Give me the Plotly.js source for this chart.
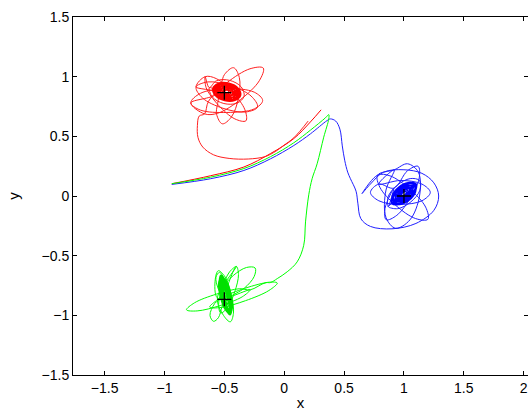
<!DOCTYPE html>
<html>
<head>
<meta charset="utf-8">
<script src="https://cdn.plot.ly/plotly-3.0.1.min.js"></script>
<style>html,body{margin:0;padding:0;overflow:hidden;background:#fff}</style>
</head>
<body>
<div id="chart" style="width:528px;height:414px"></div>
<script>
// tick values
const xTicks = [-1.5, -1, -0.5, 0, 0.5, 1, 1.5, 2];
const yTicks = [-1.5, -1, -0.5, 0, 0.5, 1, 1.5];

// final positions of the three masses (+ markers)
const massX = [-0.5, 1.0, -0.5];
const massY = [0.866, 0.0, -0.866];

// ---- red body ----
const redArcX = [-0.939, -0.614, -0.337, -0.114, 0.080, 0.219, 0.308];
const redArcY = [0.103, 0.170, 0.243, 0.356, 0.481, 0.621, 0.722];
const redX = [
  0.20, 0.08, -0.01, -0.07, -0.16, -0.30, -0.46, -0.59, -0.68, -0.72, -0.725, -0.71,
  -0.665, -0.632, -0.476, -0.286, -0.175, -0.208, -0.364, -0.554, -0.665,
  -0.78, -0.70, -0.48, -0.25, -0.18, -0.25, -0.48, -0.70, -0.78,
  -0.558, -0.499, -0.423, -0.375, -0.382, -0.441, -0.517, -0.565, -0.558,
  -0.737, -0.639, -0.449, -0.277, -0.223, -0.321, -0.511, -0.683, -0.737,
  -0.66, -0.568, -0.431, -0.328, -0.32, -0.412, -0.549, -0.652, -0.66,
  -0.626, -0.566, -0.456, -0.360, -0.335, -0.394, -0.504, -0.600, -0.626, -0.596
];
const redY = [
  0.628, 0.488, 0.420, 0.375, 0.330, 0.310, 0.315, 0.345, 0.410, 0.490, 0.590, 0.670,
  0.688, 0.794, 0.951, 1.066, 1.072, 0.966, 0.809, 0.694, 0.688,
  0.78, 0.86, 0.90, 0.87, 0.80, 0.73, 0.70, 0.72, 0.78,
  0.858, 1.018, 1.075, 0.994, 0.822, 0.662, 0.605, 0.686, 0.858,
  0.914, 0.956, 0.925, 0.838, 0.746, 0.704, 0.735, 0.822, 0.914,
  1.0, 0.984, 0.869, 0.722, 0.63, 0.646, 0.761, 0.908, 1.0,
  0.908, 0.966, 0.969, 0.915, 0.836, 0.778, 0.775, 0.829, 0.908, 0.901
];
const redCoreX = [
  -0.596, -0.549, -0.462, -0.385, -0.364, -0.411, -0.498, -0.575, -0.596,
  -0.592, -0.548, -0.464, -0.390, -0.368, -0.412, -0.496, -0.570, -0.592,
  -0.577, -0.539, -0.466, -0.401, -0.383, -0.421, -0.494, -0.559, -0.577,
  -0.587, -0.548, -0.47, -0.398, -0.373, -0.412, -0.49, -0.562, -0.587,
  -0.567, -0.530, -0.463, -0.406, -0.393, -0.430, -0.497, -0.554, -0.567,
  -0.558, -0.527, -0.468, -0.417, -0.402, -0.433, -0.492, -0.543, -0.558,
  -0.548, -0.518, -0.466, -0.422, -0.412, -0.442, -0.494, -0.538, -0.548,
  -0.538, -0.514, -0.47, -0.432, -0.422, -0.446, -0.49, -0.528, -0.538,
  -0.529, -0.508, -0.472, -0.440, -0.432, -0.452, -0.488, -0.520, -0.529,
  -0.514, -0.500, -0.474, -0.452, -0.446, -0.460, -0.486, -0.508, -0.514,
  -0.499, -0.491, -0.476, -0.464, -0.461, -0.469, -0.484, -0.496, -0.499,
  -0.596, -0.549, -0.462, -0.385, -0.364, -0.411, -0.498, -0.575, -0.596
];
const redCoreY = [
  0.901, 0.943, 0.945, 0.903, 0.843, 0.801, 0.799, 0.841, 0.901,
  0.900, 0.936, 0.935, 0.897, 0.844, 0.808, 0.809, 0.847, 0.900,
  0.896, 0.93, 0.93, 0.896, 0.848, 0.814, 0.814, 0.848, 0.896,
  0.898, 0.918, 0.911, 0.88, 0.846, 0.826, 0.833, 0.864, 0.898,
  0.894, 0.935, 0.940, 0.905, 0.850, 0.809, 0.804, 0.839, 0.894,
  0.891, 0.92, 0.921, 0.892, 0.853, 0.824, 0.823, 0.852, 0.891,
  0.889, 0.925, 0.930, 0.901, 0.855, 0.819, 0.814, 0.843, 0.889,
  0.886, 0.909, 0.911, 0.889, 0.858, 0.835, 0.833, 0.855, 0.886,
  0.884, 0.905, 0.906, 0.888, 0.860, 0.840, 0.838, 0.857, 0.884,
  0.880, 0.895, 0.896, 0.883, 0.864, 0.849, 0.848, 0.861, 0.880,
  0.877, 0.886, 0.887, 0.879, 0.867, 0.858, 0.857, 0.865, 0.877,
  0.901, 0.943, 0.945, 0.903, 0.843, 0.801, 0.799, 0.841, 0.901
];

// ---- green body ----
const greenX = [
  -0.939, -0.614, -0.337, -0.114, 0.080, 0.219, 0.344, 0.372, 0.372, 0.33, 0.275, 0.233,
  0.205, 0.178, 0.163, 0.108, 0.025, -0.058, -0.114,
  -0.152, -0.357, -0.552, -0.622, -0.528, -0.323, -0.128, -0.058, -0.152,
  -0.284, -0.373, -0.565, -0.749, -0.816, -0.727, -0.535, -0.351, -0.284,
  -0.445, -0.334, -0.251, -0.243, -0.315, -0.426, -0.509, -0.517, -0.445,
  -0.558, -0.576, -0.55, -0.494, -0.442, -0.424, -0.45, -0.506, -0.558,
  -0.40, -0.456, -0.517, -0.548, -0.53, -0.474, -0.413, -0.382, -0.40,
  -0.52, -0.58, -0.62, -0.59, -0.55, -0.52, -0.50,
  -0.55, -0.57, -0.54, -0.50, -0.49, -0.50, -0.529
];
const greenY = [
  0.103, 0.158, 0.230, 0.330, 0.446, 0.552, 0.655, 0.682, 0.646, 0.493, 0.270, 0.145,
  0.010, -0.217, -0.413, -0.552, -0.635, -0.692, -0.725,
  -0.726, -0.783, -0.868, -0.931, -0.934, -0.877, -0.792, -0.729, -0.726,
  -0.786, -0.777, -0.822, -0.895, -0.954, -0.963, -0.918, -0.845, -0.786,
  -0.841, -0.773, -0.675, -0.603, -0.599, -0.667, -0.765, -0.837, -0.841,
  -0.854, -0.698, -0.626, -0.678, -0.826, -0.982, -1.054, -1.002, -0.854,
  -0.59, -0.635, -0.768, -0.911, -0.98, -0.935, -0.802, -0.659, -0.59,
  -0.85, -0.90, -1.0, -1.05, -1.02, -0.93, -0.87,
  -0.78, -0.68, -0.64, -0.70, -0.80, -0.87, -0.664
];
const greenCoreX = [
  -0.529, -0.493, -0.456, -0.438, -0.451, -0.487, -0.524, -0.542, -0.529,
  -0.528, -0.496, -0.461, -0.443, -0.452, -0.484, -0.519, -0.537, -0.528,
  -0.527, -0.485, -0.446, -0.433, -0.453, -0.495, -0.534, -0.547, -0.527,
  -0.524, -0.497, -0.466, -0.449, -0.456, -0.483, -0.514, -0.531, -0.524,
  -0.522, -0.485, -0.451, -0.440, -0.458, -0.495, -0.529, -0.540, -0.522,
  -0.520, -0.501, -0.475, -0.459, -0.460, -0.479, -0.505, -0.521, -0.520,
  -0.517, -0.495, -0.471, -0.457, -0.463, -0.485, -0.509, -0.523, -0.517,
  -0.508, -0.493, -0.475, -0.467, -0.472, -0.487, -0.505, -0.513, -0.508,
  -0.501, -0.491, -0.480, -0.476, -0.479, -0.489, -0.500, -0.505, -0.501,
  -0.529, -0.493, -0.456, -0.438, -0.451, -0.487, -0.524, -0.542, -0.529
];
const greenCoreY = [
  -0.664, -0.707, -0.822, -0.941, -0.996, -0.953, -0.838, -0.719, -0.664,
  -0.669, -0.711, -0.823, -0.939, -0.991, -0.949, -0.837, -0.721, -0.669,
  -0.674, -0.713, -0.820, -0.933, -0.986, -0.947, -0.840, -0.727, -0.674,
  -0.684, -0.723, -0.824, -0.929, -0.976, -0.937, -0.836, -0.731, -0.684,
  -0.694, -0.727, -0.821, -0.920, -0.966, -0.933, -0.839, -0.740, -0.694,
  -0.703, -0.738, -0.827, -0.917, -0.957, -0.922, -0.833, -0.743, -0.703,
  -0.713, -0.744, -0.825, -0.910, -0.947, -0.916, -0.835, -0.750, -0.713,
  -0.752, -0.772, -0.827, -0.883, -0.908, -0.888, -0.833, -0.777, -0.752,
  -0.781, -0.794, -0.828, -0.864, -0.879, -0.867, -0.832, -0.798, -0.781,
  -0.664, -0.707, -0.822, -0.941, -0.996, -0.953, -0.838, -0.719, -0.664
];

// ---- blue body ----
const blueX = [
  -0.939, -0.614, -0.337, -0.114, 0.080, 0.219, 0.358, 0.386, 0.43, 0.465, 0.485, 0.505,
  0.53, 0.553, 0.60, 0.615, 0.64, 0.72, 0.90, 1.10, 1.25, 1.29, 1.25, 1.15, 1.0, 0.83, 0.72, 0.65,
  0.78, 0.883, 1.049, 1.181, 1.2, 1.097, 0.931, 0.799, 0.78,
  0.92, 1.03, 1.12, 1.13, 1.05, 0.93, 0.85, 0.85, 0.92,
  0.79, 0.97, 1.15, 1.22, 1.15, 0.97, 0.79, 0.72, 0.79,
  0.916, 1.03, 1.118, 1.128, 1.054, 0.94, 0.852, 0.842, 0.916,
  0.869, 0.867, 0.942, 1.052, 1.131, 1.133, 1.058, 0.948, 0.869, 0.908
];
const blueY = [
  0.097, 0.145, 0.214, 0.312, 0.423, 0.521, 0.632, 0.646, 0.628, 0.56, 0.42, 0.30,
  0.20, 0.145, 0.04, -0.06, -0.19, -0.255, -0.275, -0.23, -0.12, 0.0, 0.11, 0.19, 0.22, 0.20, 0.10, 0.02,
  0.175, 0.169, 0.058, -0.093, -0.195, -0.189, -0.078, 0.073, 0.175,
  0.22, 0.27, 0.20, 0.0, -0.20, -0.27, -0.18, 0.05, 0.22,
  0.10, 0.13, 0.10, 0.03, -0.04, -0.07, -0.04, 0.03, 0.10,
  0.066, 0.212, 0.249, 0.154, -0.016, -0.162, -0.199, -0.104, 0.066,
  -0.089, -0.008, 0.089, 0.146, 0.129, 0.048, -0.049, -0.106, -0.089, -0.057
];
const blueCoreX = [
  0.900, 0.902, 0.962, 1.044, 1.100, 1.098, 1.038, 0.957, 0.900,
  0.908, 0.903, 0.955, 1.034, 1.092, 1.097, 1.045, 0.966, 0.908,
  0.908, 0.912, 0.968, 1.042, 1.092, 1.088, 1.032, 0.958, 0.908,
  0.915, 0.913, 0.962, 1.033, 1.085, 1.087, 1.038, 0.967, 0.915,
  0.923, 0.93, 0.978, 1.038, 1.077, 1.07, 1.022, 0.962, 0.923,
  0.931, 0.928, 0.968, 1.026, 1.069, 1.072, 1.032, 0.974, 0.931,
  0.938, 0.945, 0.984, 1.033, 1.062, 1.055, 1.016, 0.967, 0.938,
  0.946, 0.944, 0.974, 1.020, 1.054, 1.056, 1.026, 0.980, 0.946,
  0.954, 0.959, 0.987, 1.023, 1.046, 1.041, 1.013, 0.977, 0.954,
  0.969, 0.969, 0.987, 1.013, 1.031, 1.031, 1.013, 0.987, 0.969,
  0.981, 0.981, 0.992, 1.008, 1.019, 1.019, 1.008, 0.992, 0.981,
  0.900, 0.902, 0.962, 1.044, 1.100, 1.098, 1.038, 0.957, 0.900
];
const blueCoreY = [
  -0.063, -0.006, 0.066, 0.111, 0.103, 0.046, -0.026, -0.071, -0.063,
  -0.057, 0.004, 0.074, 0.112, 0.097, 0.036, -0.034, -0.072, -0.057,
  -0.057, -0.007, 0.059, 0.101, 0.097, 0.047, -0.019, -0.061, -0.057,
  -0.05, 0.003, 0.066, 0.103, 0.09, 0.037, -0.026, -0.063, -0.05,
  -0.044, -0.006, 0.047, 0.084, 0.084, 0.046, -0.007, -0.044, -0.044,
  -0.038, 0.006, 0.059, 0.088, 0.078, 0.034, -0.019, -0.048, -0.038,
  -0.031, -0.002, 0.039, 0.07, 0.071, 0.042, 0.001, -0.03, -0.031,
  -0.025, 0.010, 0.051, 0.074, 0.065, 0.030, -0.011, -0.034, -0.025,
  -0.018, 0.004, 0.035, 0.058, 0.058, 0.036, 0.005, -0.018, -0.018,
  -0.006, 0.013, 0.035, 0.049, 0.046, 0.027, 0.005, -0.009, -0.006,
  0.004, 0.015, 0.029, 0.038, 0.036, 0.025, 0.011, 0.002, 0.004,
  -0.063, -0.006, 0.066, 0.111, 0.103, 0.046, -0.026, -0.071, -0.063
];

const lineOf = (c, w) => ({color: c, width: w, shape: 'spline', smoothing: 1});
const traces = [
  {x: redArcX, y: redArcY, mode: 'lines', line: lineOf('#ff0000', 1), hoverinfo: 'skip'},
  {x: redX, y: redY, mode: 'lines', line: lineOf('#ff2020', 1), hoverinfo: 'skip'},
  {x: redCoreX, y: redCoreY, mode: 'lines', line: lineOf('#ff0000', 1.4), hoverinfo: 'skip'},
  {x: blueX, y: blueY, mode: 'lines', line: lineOf('#2020ff', 1), hoverinfo: 'skip'},
  {x: blueCoreX, y: blueCoreY, mode: 'lines', line: lineOf('#0000ff', 1.4), hoverinfo: 'skip'},
  {x: greenX, y: greenY, mode: 'lines', line: lineOf('#00ff00', 1), hoverinfo: 'skip'},
  {x: greenCoreX, y: greenCoreY, mode: 'lines', line: lineOf('#00e000', 1.4), hoverinfo: 'skip'},
  {x: massX, y: massY, mode: 'markers', hoverinfo: 'skip',
   marker: {symbol: 'cross-thin', size: 10, color: '#000', line: {color: '#000', width: 1.3}}}
];

const font = {family: '"Liberation Sans", Arial, Helvetica, sans-serif', size: 14, color: '#000'};
const axisBase = {
  showline: true, linecolor: '#000', linewidth: 1, mirror: 'ticks',
  ticks: 'inside', ticklen: 4, tickwidth: 1, tickcolor: '#000',
  showgrid: false, zeroline: false, tickfont: font, automargin: false
};
const layout = {
  width: 528, height: 414,
  margin: {l: 73, r: 0, t: 17, b: 39},
  paper_bgcolor: '#fff', plot_bgcolor: '#fff',
  showlegend: false,
  font: font,
  xaxis: Object.assign({}, axisBase, {
    range: [-1.764, 2.036], tickvals: xTicks,
    title: {text: 'x', font: {family: font.family, size: 15, color: '#000'}, standoff: 2}
  }),
  yaxis: Object.assign({}, axisBase, {
    range: [-1.5, 1.5], tickvals: yTicks,
    title: {text: 'y', font: {family: font.family, size: 15, color: '#000'}, standoff: 18}
  })
};
Plotly.newPlot('chart', traces, layout, {staticPlot: true, displayModeBar: false});
</script>
</body>
</html>
